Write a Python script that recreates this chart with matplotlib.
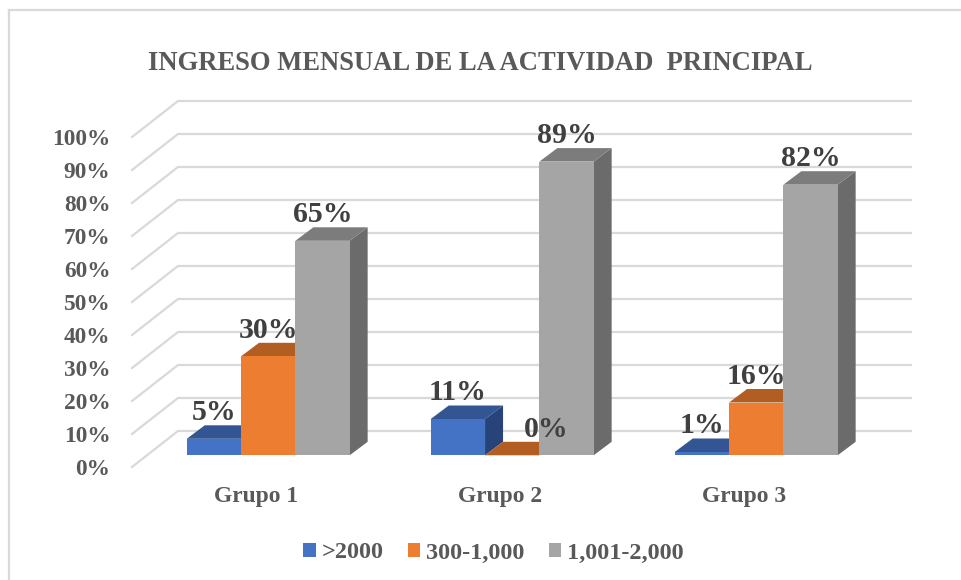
import matplotlib
matplotlib.use("Agg")
import matplotlib.pyplot as plt
from matplotlib.lines import Line2D
from matplotlib.patches import Patch, Polygon

W, H = 961, 580
plt.rcParams['font.family'] = ['Liberation Serif', 'DejaVu Serif']
plt.rcParams['font.weight'] = 'bold'

# --- data ---
groups = ['Grupo 1', 'Grupo 2', 'Grupo 3']
series_names = ['>2000', '300-1,000', '1,001-2,000']
values_gt2000 = [5, 11, 1]
values_300_1000 = [30, 0, 16]
values_1001_2000 = [65, 89, 82]
y_ticks = [0, 10, 20, 30, 40, 50, 60, 70, 80, 90, 100]

# --- styles ---
front_cols = ['#4472C4', '#ED7D31', '#A5A5A5']
top_cols = ['#335593', '#B25D22', '#7C7C7C']
side_cols = ['#27437A', '#9A5020', '#6B6B6B']
TXT = '#595959'
LBL = '#404040'
GRID = '#D9D9D9'

# scale of the bar plane, in pixels
PX_X = 244.0          # pixels per category
PX_Y = 3.3            # pixels per percent
X0_PX = 268.2         # pixel of category 0 (middle of its bars)
Y0_PX = 455.3         # pixel of 0 %

LEFT, RIGHT, TOP, BOTTOM = 132.0, 911.0, 101.0, 467.0

fig = plt.figure(figsize=(W / 100, H / 100), dpi=100, facecolor='white')
ax = fig.add_axes([LEFT / W, 1 - BOTTOM / H, (RIGHT - LEFT) / W, (BOTTOM - TOP) / H])
ax.set_xlim((LEFT - X0_PX) / PX_X, (RIGHT - X0_PX) / PX_X)
ax.set_ylim((Y0_PX - BOTTOM) / PX_Y, (Y0_PX - TOP) / PX_Y)
ax.patch.set_visible(False)
for s in ax.spines.values():
    s.set_visible(False)

# offsets in data units
bw = 54.3 / PX_X
bar_dx, bar_dy = 18 / PX_X, 13.5 / PX_Y
front_dx, front_dy = (LEFT - X0_PX) / PX_X, (Y0_PX - BOTTOM) / PX_Y
back_x = (178 - X0_PX) / PX_X
back_dy = (Y0_PX - 431) / PX_Y
x_right = (RIGHT - X0_PX) / PX_X

# gridlines: back wall plus the diagonal on the side wall
for v in y_ticks:
    ax.plot([front_dx, back_x, x_right], [v + front_dy, v + back_dy, v + back_dy],
            color=GRID, lw=1.6, solid_joinstyle='miter', clip_on=False, zorder=1)

# bars
all_series = [values_gt2000, values_300_1000, values_1001_2000]
z = 2
for g in range(len(groups)):
    for k, vals in enumerate(all_series):
        v = vals[g]
        x0 = g + (k - 1.5) * bw
        x1 = x0 + bw
        ax.add_patch(Polygon([(x1, 0), (x1 + bar_dx, bar_dy), (x1 + bar_dx, v + bar_dy), (x1, v)],
                             closed=True, fc=side_cols[k], ec='none', zorder=z, clip_on=False))
        ax.add_patch(Polygon([(x0, v), (x1, v), (x1 + bar_dx, v + bar_dy), (x0 + bar_dx, v + bar_dy)],
                             closed=True, fc=top_cols[k], ec='none', zorder=z, clip_on=False))
        ax.bar(x0, v, width=bw, align='edge', color=front_cols[k], zorder=z + 0.5, clip_on=False)
        z += 1

# data labels, above everything
for g in range(len(groups)):
    for k, vals in enumerate(all_series):
        v = vals[g]
        xc = g + (k - 1) * bw
        dx_pt = 34 * 0.72 if v == 0 else 0
        ax.annotate(f'{v}%', (xc, v), xytext=(dx_pt, 18.8), textcoords='offset points',
                    ha='center', va='center', fontsize=21.5, color=LBL, zorder=50,
                    annotation_clip=False)

# axes ticks
ax.set_yticks([v + front_dy for v in y_ticks])
ax.set_yticklabels([f'{v}%' for v in y_ticks], fontsize=16.8, color=TXT, fontweight='bold')
ax.tick_params(axis='y', length=0, pad=15.4)
ax.set_xticks([g - 12.5 / PX_X for g in range(len(groups))])
ax.set_xticklabels(groups, fontsize=16.9, color=TXT, fontweight='bold')
ax.tick_params(axis='x', length=0, pad=14)

# title
fig.text(480.5 / W, 1 - 63.5 / H, 'INGRESO MENSUAL DE LA ACTIVIDAD  PRINCIPAL',
         ha='center', va='center', fontsize=19.2, color=TXT, fontweight='bold')

# legend
handles = [Patch(fc=c, ec='none') for c in front_cols]
fig.legend(handles, series_names, loc='center', bbox_to_anchor=(493.5 / W, 1 - 553 / H),
           ncols=3, frameon=False, fontsize=17.5, labelcolor=TXT,
           handlelength=0.5, handleheight=0.5, handletextpad=0.25, columnspacing=1.0,
           borderpad=0, borderaxespad=0)

# chart frame
for xs, ys in [((8.5, 8.5), (9.5, H)), ((8.5, W), (9.5, 9.5))]:
    fig.add_artist(Line2D([x / W for x in xs], [1 - y / H for y in ys],
                          color='#D9D9D9', lw=1.6, transform=fig.transFigure))

fig.savefig('out.png', dpi=100, facecolor='white')
